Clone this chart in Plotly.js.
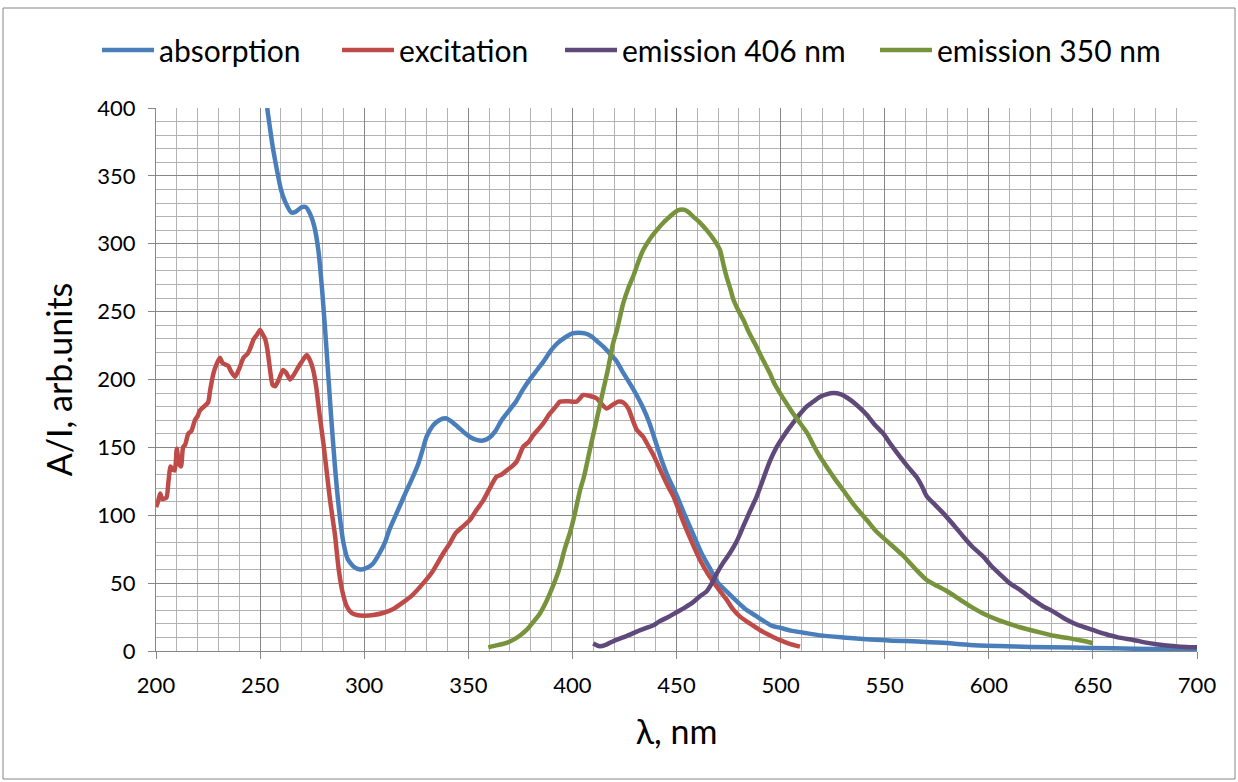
<!DOCTYPE html>
<html>
<head>
<meta charset="utf-8">
<script src="https://cdn.plot.ly/plotly-3.0.1.min.js"></script>
<style>html,body{margin:0;padding:0;background:#fff;}#chart{width:1238px;height:782px;}</style>
</head>
<body>
<div id="chart"></div>
<script>
// ---- data ----
const absorptionX = [253.4,256,258,260,262,265,267,270,272,274,276,278,280,282,284,286,288,290,292,295,298,301,304,307,310,312,316,320,323,326,328,330,333,336,339,342,345,348,351,354,357,360,363,366,370,373,376,380,383,386,390,393,397,400,403,406,409,412,415,418,421,424,428,431,434,437,440,443,446,450,454,458,462,466,470,474,478,483,488,492,496,500,505,511,519,530,543,554,566,578,591,605,620,639,660,680,700];
const absorptionY = [400,372,355,340,331,323,323.5,327,327,322,313,295,262,220,175,135,103,80,68,62,60,61,64,71,80,89,103,117,127,138,148,158,166,170,171.4,169,165,161,157.5,155.5,155,157,162,170,178,184,192,201,207,213,222,227,231.5,234,234.5,234,232,228,224,219,214,206,196,188,179,168,154,140,128,115,100,86,72,61,50,44,38,31,26,22,18.5,17,15,13.5,11.5,10,8.5,7.6,7,6,4.5,3.7,3,2.5,2,1.5,1.2];

const excitationX = [200,201,202,203,205,206,207,208,209,210,211,212,213,214,215.5,217,218.7,220,221,223,225,226,227.5,229,230.7,232,234.7,236,238,240,242,244,245,247,248.5,250,251,252.4,253.5,254.8,256,257.2,259,261,262.5,264.4,266,268.3,270,272.4,274,275.5,277,278.5,280.4,282,283.6,286,287.6,289.5,291.6,294,296.4,300,304.4,309,314,318.8,323,328.4,333,338,341,344,347.6,351,354,357.2,360,363.6,366,368.4,371,373.2,376.4,379,381.2,384,386,389.2,392,394,398,402,405.2,408,411.7,414,416.5,419,422,424.5,426.9,429,430.9,434,436.5,438.9,442,446,448.5,452,454.9,458,461.3,465,469.3,474,477,480.5,485,490,495,499.7,504,509.3];
const excitationY = [106,110,116,112,113,125,136,134,133,149,138,136,150,152,160,162,170,173,177,180,183,192,204,211,216,212,210,206,202,208,216,219,222,230,233,236.5,234,230,222,207,196,195,200,207,205,200,203,209,213,218,214,207,194,175,153,132,111,85,62,44,33,28,26.5,26,26.5,28,31,36,41,50,59,72,79,87,92,97,104,111,119,128.5,130,133,136,139.5,150.5,154,159,164,167.7,175,180,183.7,184,183.7,188.6,188,186,182,178.6,181,183.7,183,178.6,170,163,157.8,151,144.4,134,121,114,100,89,78,67,57,47.4,38,31,25.3,20.5,15.5,11.5,8,5.5,3.2];

const em406X = [410,413,416,420,426,432,438.9,442,446,450,454,458,461,464.5,467,469.3,472,475.6,479,482,485,488.5,491,494.9,498,501.3,504,506,509,512.5,516,519,522,525.3,529,532.5,536,541.4,545,549.4,553,557.4,561,565.4,568,570.2,574,578.2,583,587.8,592,597.4,601,605.4,610,615,621.4,626,631,637.4,643,650,656,662,669.4,677,685.4,692,700];
const em406Y = [5.5,3.5,4.5,7.5,11,15,19,22,25,28.5,32,36,40,44,50,57,64,72,81,91.6,102,113.7,124,140,150,158,164,168,174,180,184,187.3,189,190,189,186,182,174,167,160,152,143,136,128,121,114,108,101.4,93,84.2,77,69.5,63,56.5,50,45,37.6,33,29,23,19,15.5,12.5,10,8.1,5.8,4,3.2,2.7];

const em350X = [359.6,363,366,370,374,378,381,384.4,387,389.2,392,394,396.4,398.8,401,403.6,405.5,408.5,411,414.8,417,419.6,421.3,424.4,427,429.2,432,434,437,440.5,444,446.8,449,451.6,454,456,458,461,464.5,468,470.9,472.5,474,476,477.3,480,482.1,485,488.5,491,494.9,497,499.7,503,506,509.3,513,516,519,522,526,530,535,541.4,546,552.5,559,565,570,575,580,586,591,598,605,615,625,632,639,645,650];
const em350Y = [2.7,4,5,7,10.5,15.5,21,27.7,35,42.5,53,62,75.6,87,100,118,128,149,166,192,207,227,236,256,268,276,288,295.4,303,310,316,320,323,325,325,323,320,316,310,303,295.4,285,276,266,259,250,244,234,224,216,204.5,197,190,182,175,168,160,151,143,136,127,118.6,108,96.5,88,79,70,60,52.5,48,44,38,33,27,22.5,17.5,13.5,11,9.3,7.5,5.7];

const seriesNames = ['absorption','excitation','emission 406 nm','emission 350 nm'];
const seriesColors = ['#4A7EBB','#BE4B48','#5F497A','#77933C'];
const xTitle = 'λ, nm';
const yTitle = 'A/I, arb.units';

const FONT = 'Lato, Carlito, Calibri, sans-serif';
const xs = [absorptionX, excitationX, em406X, em350X];
const ys = [absorptionY, excitationY, em406Y, em350Y];
const legendIds = ['legend','legend2','legend3','legend4'];
const traces = xs.map((x,i)=>({
  type:'scatter', mode:'lines', x:x, y:ys[i], name:seriesNames[i], legend:legendIds[i],
  line:{color:seriesColors[i], width:4.5, shape:'spline', smoothing:0.6}
}));

const L=156, R=1197, T=108, B=651;
const pw = R-L, ph = B-T;
const px2x = p => (p-L)/pw, px2y = p => (B-p)/ph;

const legendLeft = [97, 337, 560, 875];
const mkLegend = left => ({orientation:'h', x:px2x(left), xanchor:'left', y:px2y(50), yanchor:'middle',
          font:{family:FONT, size:30, color:'#000'}, bgcolor:'rgba(0,0,0,0)', itemwidth:52});

const layout = {
  width:1238, height:782,
  margin:{l:L, r:1238-R, t:T, b:782-B, pad:0},
  paper_bgcolor:'#ffffff', plot_bgcolor:'#ffffff',
  font:{family:FONT, color:'#000000'},
  showlegend:true,
  legend:mkLegend(legendLeft[0]), legend2:mkLegend(legendLeft[1]),
  legend3:mkLegend(legendLeft[2]), legend4:mkLegend(legendLeft[3]),
  xaxis:{range:[200,700], dtick:50, tick0:200, showgrid:true, gridcolor:'#868686', gridwidth:1,
         minor:{dtick:10, showgrid:true, gridcolor:'#b2b2b2', gridwidth:1},
         showline:true, linecolor:'#868686', linewidth:1, mirror:false,
         ticks:'outside', ticklen:7, tickcolor:'#868686', zeroline:false, ticklabelstandoff:8,
         tickfont:{family:FONT, size:22, color:'#000'},
         title:{text:xTitle, font:{family:FONT, size:34, color:'#000'}, standoff:22}},
  yaxis:{range:[0,400], dtick:50, tick0:0, showgrid:true, gridcolor:'#868686', gridwidth:1,
         minor:{dtick:10, showgrid:true, gridcolor:'#b2b2b2', gridwidth:1},
         showline:true, linecolor:'#868686', linewidth:1,
         ticks:'outside', ticklen:7, tickcolor:'#868686', zeroline:false, ticklabelstandoff:8,
         tickfont:{family:FONT, size:22, color:'#000'},
         title:{text:yTitle, font:{family:FONT, size:34, color:'#000'}, standoff:14}},
  shapes:[{type:'rect', xref:'paper', yref:'paper', x0:px2x(3), x1:px2x(1235), y0:px2y(8), y1:px2y(779),
           line:{color:'#868686', width:1}, fillcolor:'rgba(0,0,0,0)', layer:'below'}]
};

Plotly.newPlot('chart', traces, layout, {displayModeBar:false, staticPlot:true});
</script>
</body>
</html>
